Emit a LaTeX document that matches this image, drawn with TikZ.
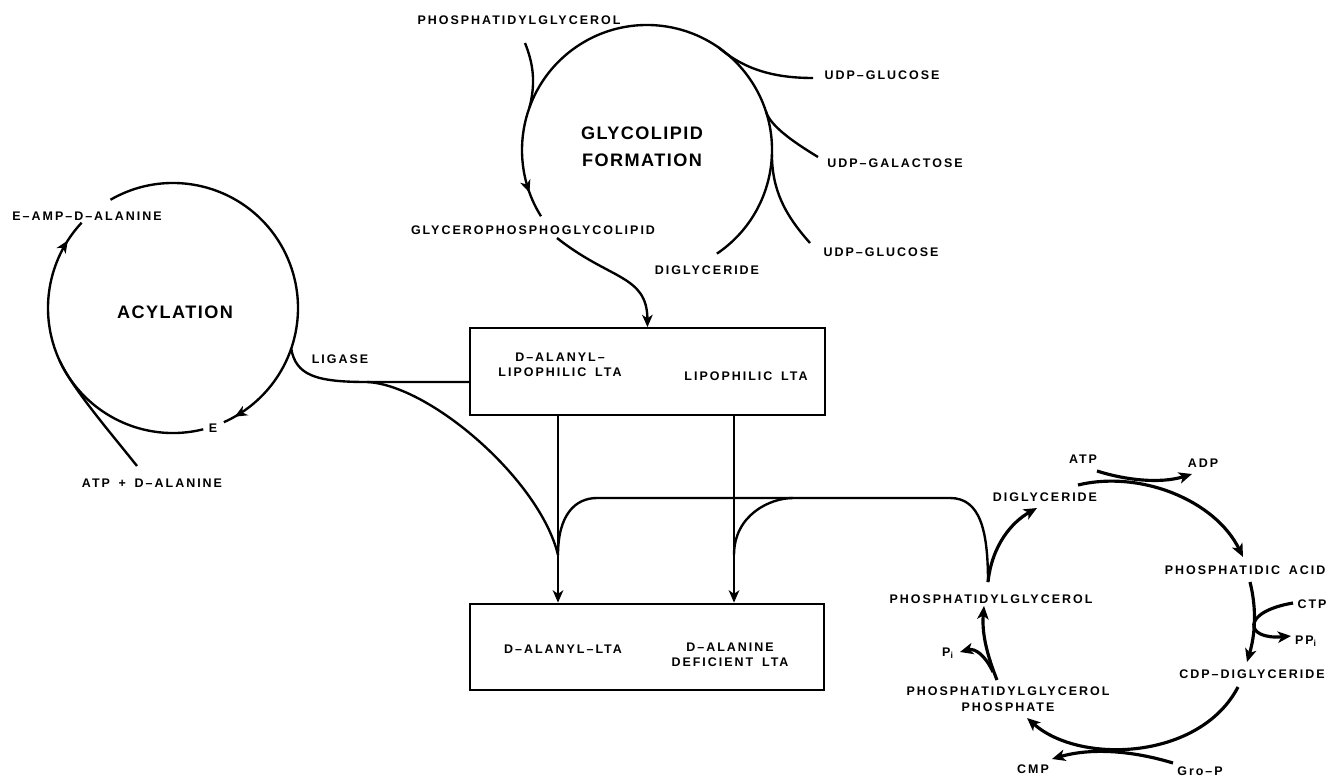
\documentclass[tikz,border=0pt]{standalone}
\usepackage{fontspec}
\setmainfont{Liberation Sans}
\newfontfamily\spacedfam[LetterSpace=16,WordSpace=1.6]{Liberation Sans}
\newfontfamily\widefam[LetterSpace=8]{Liberation Sans}
\usetikzlibrary{arrows.meta,decorations.markings,positioning}
\newcommand{\lblfont}{\spacedfam\bfseries\fontsize{7.1}{8.8}\selectfont}
\newcommand{\bigfont}{\widefam\bfseries\fontsize{10.3}{15.3}\selectfont}

\begin{document}
\begin{tikzpicture}[x=0.02cm, y=-0.02cm,
  flow/.style={line width=1.35pt},
  cyc/.style={line width=1.8pt, >={Stealth[length=7.5pt,width=6.5pt,inset=2pt]}},
  lbl/.style={font=\lblfont, inner sep=1pt, align=center},
  big/.style={font=\bigfont, align=center},
  box/.style={draw, line width=1.3pt, minimum width=7.09cm, minimum height=1.73cm},
  >={Stealth[length=7pt,width=6pt,inset=2pt]},
  arrowat/.style={postaction={decorate,
    decoration={markings, mark=at position #1 with {\arrow{>}}}}}]

  \useasboundingbox (0,0) rectangle (1331,777);

  % centres of the two open cycles
  \coordinate (gc) at (647,150);
  \coordinate (ac) at (173,308);

  % glycolipid formation
  \node[big] (glyform) at (642,147) {GLYCOLIPID\\FORMATION};
  \node[lbl] (phg)     at (519,20)  {PHOSPHATIDYLGLYCEROL};
  \node[lbl] (udpglc1) at (882,75)  {UDP–GLUCOSE};
  \node[lbl] (udpgal)  at (895,163) {UDP–GALACTOSE};
  \node[lbl] (udpglc2) at (881,252) {UDP–GLUCOSE};
  \node[lbl] (dgly1)   at (707,270) {DIGLYCERIDE};
  \node[lbl] (gpgl)    at (533,230) {GLYCEROPHOSPHOGLYCOLIPID};

  \coordinate (phgend)  at (525,43);
  \coordinate (glc1end) at (813,78);
  \coordinate (galend)  at (818,157);
  \coordinate (glc2end) at (810,243);
  \coordinate (gpglend) at (557,238);

  \draw[flow, arrowat=0.955] ([shift={(56:125)}]gc) arc[start angle=56, end angle=-212, radius=125];
  \draw[flow] (phgend) .. controls (533,63) and (536,82) .. ([shift={(-160:125)}]gc);
  \draw[flow] (glc1end) .. controls (775,78) and (745,70) .. ([shift={(-55:125)}]gc);
  \draw[flow] (galend) .. controls (790,140) and (770,125) .. ([shift={(-18:125)}]gc);
  \draw[flow] (glc2end) .. controls (785,215) and (772,190) .. ([shift={(2:125)}]gc);

  % acylation
  \node[big] (acyl)   at (175,312) {ACYLATION};
  \node[lbl] (eamp)   at (87,216)  {E–AMP–D–ALANINE};
  \node[lbl] (ligase) at (340,359) {LIGASE};
  \node[lbl] (enz)    at (213,428) {E};
  \node[lbl] (atpala) at (152,483) {ATP + D–ALANINE};

  \coordinate (atpend) at (137,466);
  \coordinate (ligj)   at (367,382);

  \draw[flow, arrowat=0.97] ([shift={(-120:125)}]ac) arc[start angle=-120, end angle=66, radius=125];
  \draw[flow, arrowat=0.93] ([shift={(76:125)}]ac) arc[start angle=76, end angle=223, radius=125];
  \draw[flow] (atpend) .. controls (110,432) and (72,388) .. ([shift={(155:125)}]ac);

  % the two LTA boxes
  \node[box] (lipobox) at (647.5,371.5) {};
  \node[lbl] (dalip)   at (560,365) {D–ALANYL–\\LIPOPHILIC LTA};
  \node[lbl] (lipo)    at (746,376) {LIPOPHILIC LTA};
  \node[box] (ltabox)  at (647,647) {};
  \node[lbl] (dalta)   at (563,649) {D–ALANYL–LTA};
  \node[lbl] (dadef)   at (730,655) {D–ALANINE\\DEFICIENT LTA};

  \coordinate (mergeL) at (558,555);
  \coordinate (mergeR) at (734,555);
  \coordinate (hL) at (597,498);
  \coordinate (hR) at (793,498);
  \coordinate (hE) at (950,498);

  \draw[flow,->] (gpglend) .. controls (610,280) and (647,275) .. (lipobox.north);
  \draw[flow] ([shift={(19:125)}]ac) .. controls (296,375) and (315,382) .. (ligj) -- (ligj -| lipobox.west);
  \draw[flow] (ligj) .. controls (430,385) and (540,480) .. (mergeL);
  \draw[flow,->] (lipobox.south -| mergeL) -- (ltabox.north -| mergeL);
  \draw[flow,->] (lipobox.south -| mergeR) -- (ltabox.north -| mergeR);

  % phosphatidylglycerol cycle
  \node[lbl] (dg)   at (1045,497) {DIGLYCERIDE};
  \node[lbl] (atp)  at (1083,459) {ATP};
  \node[lbl] (adp)  at (1203,463) {ADP};
  \node[lbl] (pa)   at (1245,570) {PHOSPHATIDIC ACID};
  \node[lbl] (ctp)  at (1312,604) {CTP};
  \node[lbl] (ppi)  at (1306,641) {PP\textsubscript{i}};
  \node[lbl] (cdp)  at (1252,674) {CDP–DIGLYCERIDE};
  \node[lbl] (pgp)  at (1008,699) {PHOSPHATIDYLGLYCEROL\\PHOSPHATE};
  \node[lbl] (pg)   at (991,599)  {PHOSPHATIDYLGLYCEROL};
  \node[lbl] (pi)   at (948,653)  {P\textsubscript{i}};
  \node[lbl] (cmp)  at (1033,769) {CMP};
  \node[lbl] (grop) at (1200,771) {Gro–P};

  \coordinate (pgtop)  at (988,582);
  \coordinate (dgin)   at (1037,508);
  \coordinate (dgout)  at (1078,485);
  \coordinate (pain)   at (1243,557);
  \coordinate (atpout) at (1097,471);
  \coordinate (adpin)  at (1192,474);
  \coordinate (paout)  at (1250,582);
  \coordinate (cdpin)  at (1247,662);
  \coordinate (ctpout) at (1293,603);
  \coordinate (ppiin)  at (1291,636);
  \coordinate (cdpout) at (1238,687);
  \coordinate (pgpin)  at (1027,718);
  \coordinate (gropout) at (1173,763);
  \coordinate (cmpin)  at (1052,759);
  \coordinate (pgpout) at (997,680);
  \coordinate (pgin)   at (984,606);
  \coordinate (pibr)   at (993,672);
  \coordinate (piin)   at (960,652);

  \draw[flow] (pgtop) .. controls (988,530) and (980,498) .. (hE) -- (hL)
    .. controls (575,498) and (558,515) .. (mergeL);
  \draw[flow] (hR) .. controls (770,498) and (734,515) .. (mergeR);

  \draw[cyc,->] (pgtop) .. controls (992,545) and (1012,522) .. (dgin);
  \draw[cyc,->] (dgout) .. controls (1140,470) and (1215,500) .. (pain);
  \draw[cyc,->] (atpout) .. controls (1125,480) and (1160,484) .. (adpin);
  \draw[cyc,->] (paout) .. controls (1257,610) and (1255,635) .. (cdpin);
  \draw[cyc,->] (ctpout) .. controls (1240,612) and (1245,640) .. (ppiin);
  \draw[cyc,->] (cdpout) .. controls (1200,760) and (1080,765) .. (pgpin);
  \draw[cyc,->] (gropout) .. controls (1130,750) and (1090,748) .. (cmpin);
  \draw[cyc,->] (pgpout) .. controls (985,650) and (982,630) .. (pgin);
  \draw[cyc,->] (pibr) .. controls (985,655) and (975,648) .. (piin);
\end{tikzpicture}
\end{document}
